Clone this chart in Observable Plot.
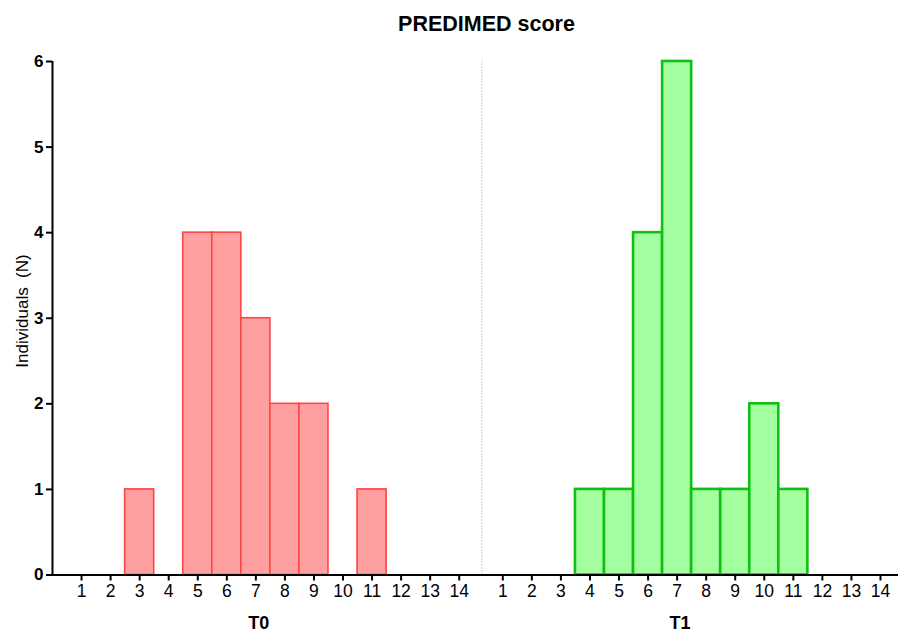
<!DOCTYPE html>
<html>
<head>
<meta charset="utf-8">
<script src="https://cdn.jsdelivr.net/npm/d3@7"></script>
<script src="https://cdn.jsdelivr.net/npm/@observablehq/plot@0.6"></script>
<style>
  html, body { margin: 0; padding: 0; background: #fff; }
  #chart { width: 899px; height: 634px; }
</style>
</head>
<body>
<div id="chart"></div>
<script>
// PREDIMED adherence score distribution at two time points
const scores = [1, 2, 3, 4, 5, 6, 7, 8, 9, 10, 11, 12, 13, 14];
const groups = ["T0", "T1"];
const t0Counts = [0, 0, 1, 0, 4, 4, 3, 2, 2, 0, 1, 0, 0, 0];
const t1Counts = [0, 0, 0, 1, 1, 4, 6, 1, 1, 2, 1, 0, 0, 0];
const yTicks = [0, 1, 2, 3, 4, 5, 6];

// Both panels share one linear x scale; the T1 panel is shifted right
const groupOffset = {T0: 0, T1: 14.5};
const separatorPos = 14.78;
const axisEnd = 29.12;

const rows = [];
scores.forEach((s, i) => {
  if (t0Counts[i] > 0) rows.push({group: "T0", score: s, n: t0Counts[i]});
  if (t1Counts[i] > 0) rows.push({group: "T1", score: s, n: t1Counts[i]});
});
const pos = d => d.score + groupOffset[d.group];

const tickPositions = groups.flatMap(g => scores.map(s => s + groupOffset[g]));
const tickLabel = p => String(p <= 14 ? p : p - groupOffset.T1);

const red = rows.filter(d => d.group === "T0");
const green = rows.filter(d => d.group === "T1");

const chart = Plot.plot({
  width: 899,
  height: 634,
  marginLeft: 52,
  marginRight: 1,
  marginTop: 61,
  marginBottom: 59.5,
  style: {fontFamily: "'Liberation Sans', Arial, sans-serif", fontSize: "17px", color: "#000", background: "#fff"},
  x: {domain: [0, axisEnd], axis: null},
  y: {domain: [0, 6], axis: null},
  marks: [
    Plot.ruleX([separatorPos], {y1: 0, y2: 6, stroke: "#999", strokeWidth: 1, strokeDasharray: "1,2"}),
    Plot.rectY(red, {
      x1: d => pos(d) - 0.5, x2: d => pos(d) + 0.5, y1: 0, y2: "n",
      fill: "#ffa0a0", stroke: "#ff4444", strokeWidth: 1.6
    }),
    Plot.rectY(green, {
      x1: d => pos(d) - 0.5, x2: d => pos(d) + 0.5, y1: 0, y2: "n",
      fill: "#a4ffa0", stroke: "#10c010", strokeWidth: 2.6
    }),
    Plot.axisY(yTicks, {
      tickSize: 6, tickPadding: 3, tickFormat: d => String(d),
      fontWeight: "bold", fontSize: 17, strokeWidth: 2, label: null
    }),
    Plot.axisX(tickPositions, {
      tickSize: 6, tickPadding: 4, tickFormat: tickLabel,
      fontSize: 17.5, strokeWidth: 2, label: null
    }),
    Plot.ruleX([0], {y1: 0, y2: 6, stroke: "#000", strokeWidth: 2}),
    Plot.ruleY([0], {x1: 0, x2: axisEnd, stroke: "#000", strokeWidth: 2}),
    // panel labels
    Plot.text(groups, {
      x: g => 7.1 + groupOffset[g], y: 0, text: d => d,
      dy: 48.5, fontWeight: "bold", fontSize: 18, lineAnchor: "middle"
    }),
    // title
    Plot.text(["PREDIMED score"], {
      x: 14.94, y: 6, dy: -37, text: d => d,
      fontWeight: "bold", fontSize: 21.5, lineAnchor: "middle"
    }),
    // y-axis label
    Plot.text(["Individuals  (N)"], {
      x: 0, y: 3.085, dx: -30, text: d => d, rotate: -90,
      fontSize: 17, lineAnchor: "middle"
    })
  ]
});
document.getElementById("chart").append(chart);
</script>
</body>
</html>
